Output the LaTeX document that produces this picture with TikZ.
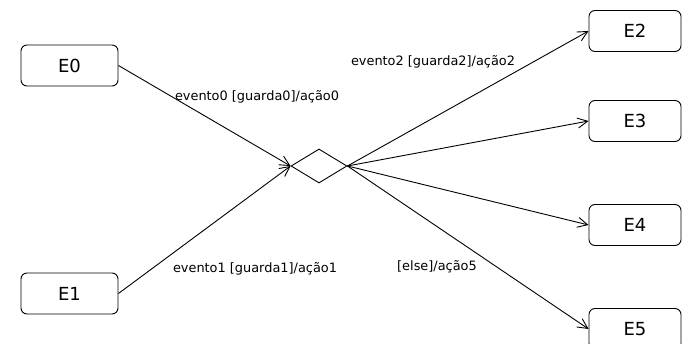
\documentclass[tikz,border=0pt]{standalone}
\usepackage{fontspec}
\setmainfont{DejaVu Sans}
\usetikzlibrary{shapes.geometric,arrows.meta}
\tikzset{every node/.style={draw=none,inner sep=0pt},
  estado/.style={draw,rounded corners=6pt,minimum width=97pt,minimum height=41pt,
    font=\fontsize{18}{22}\selectfont},
  estadod/.style={estado,minimum width=92pt},
  escolha/.style={draw,diamond,minimum width=56pt,minimum height=34pt},
  rotulo/.style={font=\fontsize{12.9}{15}\selectfont},
  trans/.style={-{Straight Barb[length=10pt,width=10pt]}}}

\begin{document}
\begin{tikzpicture}[x=1pt,y=-1pt,line width=0.9pt]
      \useasboundingbox (0,0) rectangle (682,344);
      \clip (0,0) rectangle (682,344);
      \node[estado] (E0) at (69.5,65.5) {E0};
      \node[estado] (E1) at (69.5,293.5) {E1};
      \node[estadod] (E2) at (635,31) {E2};
      \node[estadod] (E3) at (635,121) {E3};
      \node[estadod] (E4) at (635,225) {E4};
      \node[estadod] (E5) at (635,329) {E5};
      \node[escolha] (c) at (319,166) {};
      \node[rotulo] (l0) at (257,97) {evento0 [guarda0]/ação0};
      \node[rotulo] (l1) at (255,269) {evento1 [guarda1]/ação1};
      \node[rotulo] (l2) at (433,62) {evento2 [guarda2]/ação2};
      \node[rotulo] (l5) at (437,267) {[else]/ação5};

\foreach \a in {E0,E1}
  \draw[trans] (\a.east) -- (c.west);
\foreach \b in {E2,E3,E4,E5}
  \draw[trans] (c.east) -- (\b.west);
    \end{tikzpicture}
\end{document}
